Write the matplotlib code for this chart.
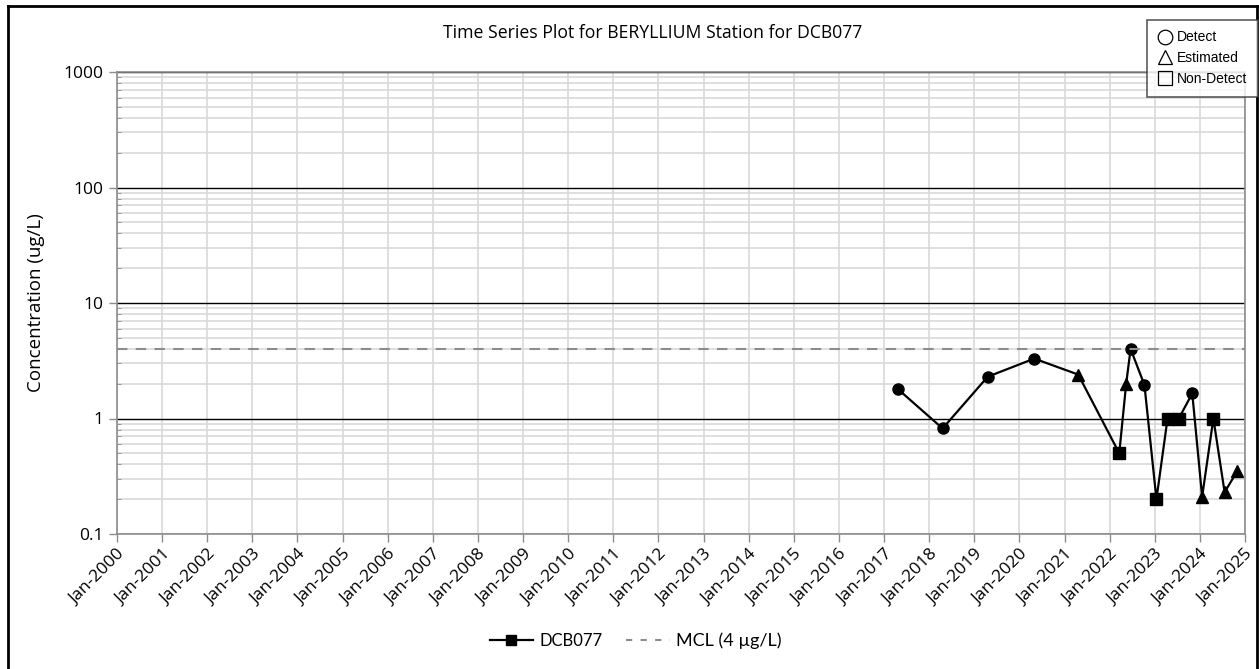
import numpy as np
import pandas as pd
import matplotlib
matplotlib.use("Agg")
import matplotlib.pyplot as plt
import matplotlib.dates as mdates
from matplotlib.lines import Line2D
from matplotlib.ticker import LogLocator, FixedFormatter, FixedLocator

# Beryllium results for DCB077
sample_dates = ["2017-04-22", "2018-04-20", "2019-04-20", "2020-05-01", "2021-04-22",
                "2022-03-20", "2022-05-15", "2022-06-20", "2022-10-10", "2023-01-15",
                "2023-04-15", "2023-07-15", "2023-11-01", "2024-01-20", "2024-04-20",
                "2024-07-20", "2024-10-30"]
concentrations = [1.8, 0.82, 2.3, 3.3, 2.4, 0.5, 2.0, 4.0, 1.95, 0.2,
                  1.0, 1.0, 1.65, 0.21, 1.0, 0.23, 0.35]
qualifiers = ["Detect", "Detect", "Detect", "Detect", "Estimated", "Non-Detect",
              "Estimated", "Detect", "Detect", "Non-Detect", "Non-Detect",
              "Non-Detect", "Detect", "Estimated", "Non-Detect", "Estimated",
              "Estimated"]
mcl_value = 4.0
year_ticks = list(range(2000, 2026))
y_ticks = [0.1, 1, 10, 100, 1000]
y_tick_labels = ["0.1", "1", "10", "100", "1000"]

df = pd.DataFrame({"date": pd.to_datetime(sample_dates),
                   "value": concentrations,
                   "qual": qualifiers})

marker_for = {"Detect": "o", "Estimated": "^", "Non-Detect": "s"}

fig = plt.figure(figsize=(12.59, 6.69), dpi=100)
ax = fig.add_axes([117 / 1259, 1 - 534 / 669, (1245 - 117) / 1259, (534 - 72) / 669])

# connecting line, then markers by qualifier
ax.plot(df["date"], df["value"], color="black", lw=1.6, zorder=4)
for q, m in marker_for.items():
    sub = df[df["qual"] == q]
    ax.plot(sub["date"], sub["value"], linestyle="none", marker=m,
            color="black", ms=8, zorder=5)

ax.axhline(mcl_value, color="#8c8c8c", lw=1.5, ls=(0, (5, 4)), zorder=6)

ax.set_yscale("log")
ax.set_ylim(0.1, 1000)
ax.set_xlim(pd.Timestamp("2000-01-01"), pd.Timestamp("2025-01-01"))

ax.yaxis.set_major_locator(FixedLocator(y_ticks))
ax.yaxis.set_major_formatter(FixedFormatter(y_tick_labels))
ax.yaxis.set_minor_locator(LogLocator(base=10, subs=np.arange(2, 10)))
ax.yaxis.set_minor_formatter(plt.NullFormatter())

ax.xaxis.set_major_locator(FixedLocator(
    [mdates.date2num(pd.Timestamp(f"{y}-01-01")) for y in year_ticks]))
ax.xaxis.set_major_formatter(mdates.DateFormatter("%b-%Y"))

# grid
ax.grid(True, which="major", axis="x", color="#d9d9d9", lw=1.2, zorder=0)
ax.grid(True, which="minor", axis="y", color="#d9d9d9", lw=1.2, zorder=0)
ax.grid(True, which="major", axis="y", color="black", lw=1.0, zorder=1)
ax.set_axisbelow(True)

for s in ax.spines.values():
    s.set_color("#8c8c8c")
    s.set_linewidth(1.2)

ax.tick_params(axis="both", which="major", colors="#8c8c8c", length=6, width=1.0,
               labelcolor="black", labelsize=12.5)
ax.tick_params(axis="x", which="major", pad=3)
ax.tick_params(axis="y", which="minor", direction="in", colors="#8c8c8c", length=3)
for lbl in ax.get_xticklabels():
    lbl.set_rotation(45)
    lbl.set_ha("right")
    lbl.set_rotation_mode("anchor")
for lbl in ax.get_xticklabels() + ax.get_yticklabels():
    lbl.set_fontfamily("Open Sans")

ax.set_ylabel("Concentration (ug/L)", fontsize=13.5, fontfamily="Open Sans",
              fontweight="medium")
ax.yaxis.set_label_coords(-0.064, 0.5)

fig.text(0.518, 0.951, "Time Series Plot for BERYLLIUM Station for DCB077",
         ha="center", va="center", fontsize=12.7, fontfamily="Open Sans",
         fontweight="medium")

# series legend at the bottom
series_handles = [
    Line2D([], [], color="black", lw=1.6, marker="s", ms=7),
    Line2D([], [], color="#8c8c8c", lw=1.5, ls=(0, (3, 4))),
]
leg = fig.legend(series_handles, ["DCB077", "MCL (4 \u00b5g/L)"], loc="center",
                 bbox_to_anchor=(0.505, 0.043), ncol=2, frameon=False,
                 prop={"family": "Lato", "size": 12}, handlelength=2.6,
                 columnspacing=1.4, handletextpad=0.4)
leg.get_texts()[1].set_fontsize(13)

# qualifier key in the corner
key_handles = [Line2D([], [], ls="none", marker=marker_for[q], ms=10.5,
                      markerfacecolor="none", markeredgecolor="black",
                      markeredgewidth=0.9) for q in ["Detect", "Estimated", "Non-Detect"]]
key = fig.legend(key_handles, ["Detect", "Estimated", "Non-Detect"],
                 loc="upper right", bbox_to_anchor=(1258 / 1259, 1 - 20 / 669),
                 frameon=True, fancybox=False, borderpad=0.75, labelspacing=0.5,
                 handletextpad=0.25, handlelength=1.2, borderaxespad=0,
                 prop={"family": "Liberation Sans", "size": 10})
key.get_frame().set_edgecolor("#333333")
key.get_frame().set_linewidth(1.2)

# outer frame
for xs, ys in [([8, 8], [669, 6]), ([8, 1257], [6, 6]), ([1257, 1257], [6, 669])]:
    fig.add_artist(Line2D([x / 1259 for x in xs], [1 - y / 669 for y in ys],
                          color="black", lw=2.0, transform=fig.transFigure))

fig.savefig("out.png", dpi=100)
